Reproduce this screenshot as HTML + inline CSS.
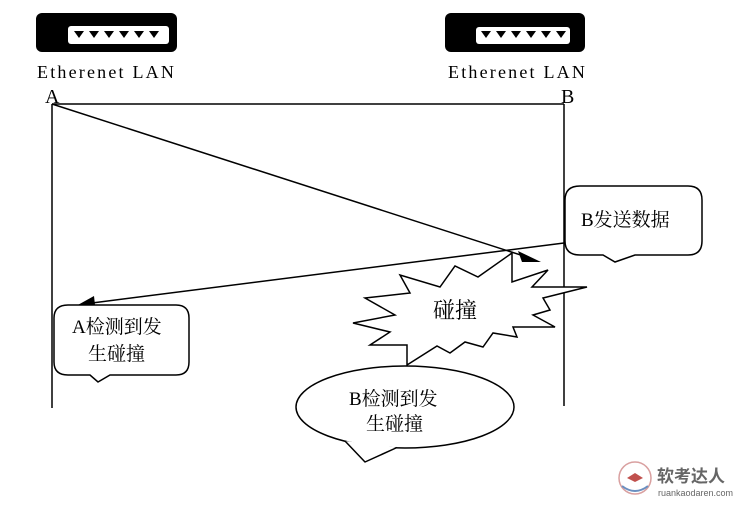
<!DOCTYPE html>
<html><head><meta charset="utf-8"><style>
html,body{margin:0;padding:0;background:#fff;}
svg{display:block}
.t{font-family:"Liberation Serif","Noto Serif CJK SC",serif;fill:#000}
</style></head><body>
<svg width="748" height="508" viewBox="0 0 748 508" xmlns="http://www.w3.org/2000/svg">
<rect x="36" y="13" width="141" height="39" rx="6" fill="#000"/>
<rect x="68" y="26" width="101" height="18" rx="3" fill="#fff"/>
<g fill="#000">
<path d="M74,31h10l-5,7z"/><path d="M89,31h10l-5,7z"/><path d="M104,31h10l-5,7z"/><path d="M119,31h10l-5,7z"/><path d="M134,31h10l-5,7z"/><path d="M149,31h10l-5,7z"/>
</g>
<rect x="445" y="13" width="140" height="39" rx="6" fill="#000"/>
<rect x="476" y="27" width="94" height="17" rx="3" fill="#fff"/>
<g fill="#000">
<path d="M481,31h10l-5,7z"/><path d="M496,31h10l-5,7z"/><path d="M511,31h10l-5,7z"/><path d="M526,31h10l-5,7z"/><path d="M541,31h10l-5,7z"/><path d="M556,31h10l-5,7z"/>
</g>
<text class="t" x="37" y="78" font-size="18" letter-spacing="2.2">Etherenet LAN</text>
<text class="t" x="448" y="78" font-size="18" letter-spacing="2.2">Etherenet LAN</text>
<text class="t" x="45" y="103" font-size="20">A</text>
<text class="t" x="561" y="103" font-size="20">B</text>
<g stroke="#000" stroke-width="1.5" fill="none">
<path d="M52,104V408"/><path d="M564,104V406"/><path d="M52,104H564"/>
<path d="M52,104L530,258"/>
<path d="M564,243L92,303"/>
</g>
<path d="M541,262L518,251L522,262z" fill="#000"/>
<path d="M76,306L94,296L95,305z" fill="#000"/>
<path d="M512,253L512,282L548,270L532,287L587,287L543,298L550,310L533,315L555,327L513,327L517,337L493,333L483,347L465,342L450,353L437,346L407,365L407,345L370,345L390,332L353,323L395,315L365,298L410,293L400,275L440,287L455,266L478,277z" fill="#fff" stroke="#000" stroke-width="1.5"/>
<text class="t" x="433" y="318" font-size="22">碰撞</text>
<ellipse cx="405" cy="407" rx="109" ry="41" fill="#fff" stroke="#000" stroke-width="1.5"/>
<path d="M345,441L365,462L397,447.5" fill="#fff" stroke="#000" stroke-width="1.5" stroke-linejoin="round"/>
<text class="t" x="349" y="405" font-size="19">B检测到发</text>
<text class="t" x="366" y="430" font-size="19">生碰撞</text>
<path d="M580,186H688Q702,186 702,200V241Q702,255 688,255H635L615,262L603,255H580Q565,255 565,241V200Q565,186 580,186Z" fill="#fff" stroke="#000" stroke-width="1.5"/>
<text class="t" x="581" y="226" font-size="19">B发送数据</text>
<path d="M68,305H176Q189,305 189,318V362Q189,375 176,375H110L98,382L90,375H68Q54,375 54,362V318Q54,305 68,305Z" fill="#fff" stroke="#000" stroke-width="1.5"/>
<text class="t" x="72" y="333" font-size="19">A检测到发</text>
<text class="t" x="88" y="360" font-size="19">生碰撞</text>
<circle cx="635" cy="478" r="16" fill="none" stroke="#d9a0a0" stroke-width="1.5"/>
<path d="M627,478l8,-5l8,5l-8,4z" fill="#c0504d"/>
<path d="M622,486q13,10 26,0" stroke="#6a8fc0" stroke-width="2" fill="none"/>
<text x="657" y="482" font-family="'Noto Sans CJK SC',sans-serif" font-size="17" font-weight="bold" fill="#666">软考达人</text>
<text x="658" y="496" font-family="'Liberation Sans',sans-serif" font-size="9" fill="#666">ruankaodaren.com</text>
</svg>
</body></html>
